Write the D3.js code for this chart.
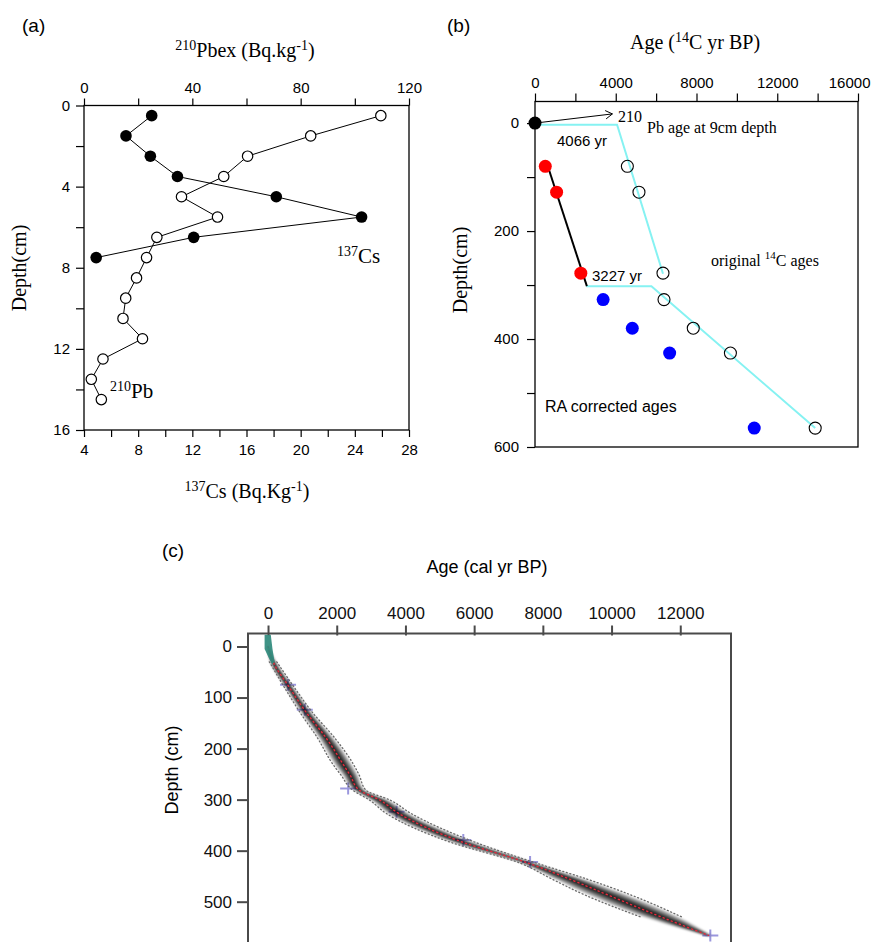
<!DOCTYPE html>
<html><head><meta charset="utf-8">
<script src="https://cdn.jsdelivr.net/npm/d3@7"></script>
<style>
body{margin:0;background:#fff}
text{font-family:"Liberation Sans",Arial,Helvetica,sans-serif}
.serif{font-family:"Liberation Serif","Times New Roman",Times,serif}
</style>
</head><body>
<svg id="chart" width="872" height="942" xmlns="http://www.w3.org/2000/svg"></svg>
<script>
// ---------- Panel (a) data ----------
const depthA = [0.5,1.5,2.5,3.5,4.5,5.5,6.5,7.5,8.5,9.5,10.5,11.5,12.5,13.5,14.5];
const cs137 = [9.0,7.1,8.9,10.9,18.2,24.5,12.1,4.9];
const pb210 = [109.6,83.7,60.4,51.6,36.0,49.3,26.9,23.1,19.4,15.4,14.4,21.6,7.0,2.7,6.4];
const csTicks = [4,6,8,10,12,14,16,18,20,22,24,26,28];
const pbTicks = [0,20,40,60,80,100,120];
const depthTicksA = [0,2,4,6,8,10,12,14,16];

// ---------- Panel (b) data ----------
const pbAgeDepth = [0];
const pbAgeAge = [0];
const redDepth = [80,128,278];
const redAge = [510,1070,2270];
const blueDepth = [327,380,426,565];
const blueAge = [3375,4820,6670,10860];
const origDepth = [80,128,278,327,380,426,565];
const origAge = [4575,5150,6340,6390,7840,9680,13880];
const cyanUpperAge = [0,4066,6340];
const cyanUpperDepth = [3,3,279];
const cyanLowerAge = [2540,5767,13880];
const cyanLowerDepth = [302,302,565];
const fitAge = [627,2570];
const fitDepth = [79,302];
const arrowAge = [0,3835];
const arrowDepth = [0,-17];
const ageTicksB = [0,2000,4000,6000,8000,10000,12000,14000,16000];
const depthTicksB = [0,100,200,300,400,500,600];

// ---------- Panel (c) data ----------
const modelDepth = [0,30,79,128,180,230,252,281,301,327,383,425,455,487,530,566];
const modelAge = [0,146,610,1100,1700,2180,2390,2650,3256,3800,5650,7600,8750,9900,11450,12820];
const modelHalf = [20,90,120,150,210,250,220,160,250,300,300,200,420,560,500,90];
const dateAge = [583,1070,2332,3742,5684,7628,12875];
const dateDepth = [75,124,278,324,379,422,566];
const tealAge = [-100,80,130,190,120,20,-100];
const tealDepth = [-23,-23,5,30,35,22,5];
const ageTicksC = [0,2000,4000,6000,8000,10000,12000];
const depthTicksC = [0,100,200,300,400,500];

const svg = d3.select("#chart");

// ================= Panel (a) =================
(function(){
  const L=84,R=409,T=105.5,B=430;
  const xCs = d3.scaleLinear().domain([4,28]).range([L,R]);
  const xPb = d3.scaleLinear().domain([0,120]).range([L,R]);
  const y = d3.scaleLinear().domain([0,16]).range([T,B]);
  const g = svg.append("g");
  g.append("rect").attr("x",L).attr("y",T).attr("width",R-L).attr("height",B-T)
    .attr("fill","none").attr("stroke","#000").attr("stroke-width",1.3);

  const styleAxis = sel => {
    sel.select(".domain").remove();
    sel.selectAll(".tick line").attr("stroke","#000").attr("stroke-width",1.2);
    sel.selectAll(".tick text").attr("font-size",15).attr("fill","#000");
  };
  g.append("g").attr("transform",`translate(0,${T})`)
    .call(d3.axisTop(xPb).tickValues(pbTicks).tickSize(7).tickPadding(6)
      .tickFormat(d=> d%40===0? d : "")).call(styleAxis);
  g.append("g").attr("transform",`translate(0,${B})`)
    .call(d3.axisBottom(xCs).tickValues(csTicks).tickSize(7).tickPadding(7)
      .tickFormat(d=> d%4===0? d : "")).call(styleAxis);
  g.append("g").attr("transform",`translate(${L},0)`)
    .call(d3.axisLeft(y).tickValues(depthTicksA).tickSize(8).tickPadding(6)
      .tickFormat(d=> d%4===0? d : "")).call(styleAxis);

  const csData = cs137.map((v,i)=>({v,d:depthA[i]}));
  const pbData = pb210.map((v,i)=>({v,d:depthA[i]}));
  g.append("path").datum(csData).attr("fill","none").attr("stroke","#000").attr("stroke-width",1)
    .attr("d",d3.line().x(p=>xCs(p.v)).y(p=>y(p.d)));
  g.append("path").datum(pbData).attr("fill","none").attr("stroke","#000").attr("stroke-width",1)
    .attr("d",d3.line().x(p=>xPb(p.v)).y(p=>y(p.d)));
  g.selectAll(".pb").data(pbData).join("circle").attr("cx",p=>xPb(p.v)).attr("cy",p=>y(p.d))
    .attr("r",5.2).attr("fill","#fff").attr("stroke","#000").attr("stroke-width",1.2);
  g.selectAll(".cs").data(csData).join("circle").attr("cx",p=>xCs(p.v)).attr("cy",p=>y(p.d))
    .attr("r",5.8).attr("fill","#000");

  const t1 = g.append("text").attr("class","serif").attr("x",337).attr("y",263).attr("font-size",21);
  t1.append("tspan").attr("font-size",14).attr("dy",-7).text("137");
  t1.append("tspan").attr("dy",7).text("Cs");
  const t2 = g.append("text").attr("class","serif").attr("x",110).attr("y",398).attr("font-size",21);
  t2.append("tspan").attr("font-size",14).attr("dy",-7).text("210");
  t2.append("tspan").attr("dy",7).text("Pb");

  const tt = g.append("text").attr("class","serif").attr("x",245).attr("y",57).attr("text-anchor","middle").attr("font-size",20);
  tt.append("tspan").attr("font-size",14).attr("dy",-7).text("210");
  tt.append("tspan").attr("dy",7).text("Pbex (Bq.kg");
  tt.append("tspan").attr("font-size",14).attr("dy",-7).text("-1");
  tt.append("tspan").attr("dy",7).text(")");
  const tb = g.append("text").attr("class","serif").attr("x",247).attr("y",498).attr("text-anchor","middle").attr("font-size",20);
  tb.append("tspan").attr("font-size",14).attr("dy",-7).text("137");
  tb.append("tspan").attr("dy",7).text("Cs (Bq.Kg");
  tb.append("tspan").attr("font-size",14).attr("dy",-7).text("-1");
  tb.append("tspan").attr("dy",7).text(")");
  g.append("text").attr("class","serif").attr("transform","translate(26,268) rotate(-90)")
    .attr("text-anchor","middle").attr("font-size",20).text("Depth(cm)");
  g.append("text").attr("x",22).attr("y",32).attr("font-size",19).text("(a)");
})();

// ================= Panel (b) =================
(function(){
  const L=535,R=858,T=101.5,B=447;
  const x = d3.scaleLinear().domain([0,16000]).range([L,R]);
  const y = d3.scaleLinear().domain([-40,600]).range([T,B]);
  const g = svg.append("g");
  g.append("rect").attr("x",L).attr("y",T).attr("width",R-L).attr("height",B-T)
    .attr("fill","none").attr("stroke","#000").attr("stroke-width",1.3);
  const styleAxis = sel => {
    sel.select(".domain").remove();
    sel.selectAll(".tick line").attr("stroke","#000").attr("stroke-width",1.2);
    sel.selectAll(".tick text").attr("font-size",15).attr("fill","#000");
  };
  const top = g.append("g").attr("transform",`translate(0,${T})`)
    .call(d3.axisTop(x).tickValues(ageTicksB).tickSize(8).tickPadding(6)
      .tickFormat(d=> d%4000===0? d : "")).call(styleAxis);
  top.selectAll(".tick text").filter(d=>d===16000).attr("text-anchor","end").attr("dx",12);
  g.append("g").attr("transform",`translate(${L},0)`)
    .call(d3.axisLeft(y).tickValues(depthTicksB).tickSize(8).tickPadding(8)
      .tickFormat(d=> d%200===0? d : "")).call(styleAxis);

  const ln = d3.line().x(d=>x(d[0])).y(d=>y(d[1]));
  g.append("path").datum(cyanUpperAge.map((a,i)=>[a,cyanUpperDepth[i]]))
    .attr("fill","none").attr("stroke","#86f2f2").attr("stroke-width",2).attr("d",ln);
  g.append("path").datum(cyanLowerAge.map((a,i)=>[a,cyanLowerDepth[i]]))
    .attr("fill","none").attr("stroke","#86f2f2").attr("stroke-width",2).attr("d",ln);
  g.append("path").datum(fitAge.map((a,i)=>[a,fitDepth[i]]))
    .attr("fill","none").attr("stroke","#000").attr("stroke-width",2).attr("d",ln);

  g.selectAll(".orig").data(origAge.map((a,i)=>[a,origDepth[i]])).join("circle")
    .attr("cx",d=>x(d[0])).attr("cy",d=>y(d[1])).attr("r",6).attr("fill","none")
    .attr("stroke","#000").attr("stroke-width",1.1);
  g.selectAll(".red").data(redAge.map((a,i)=>[a,redDepth[i]])).join("circle")
    .attr("cx",d=>x(d[0])).attr("cy",d=>y(d[1])).attr("r",6.5).attr("fill","#ff0000");
  g.selectAll(".blue").data(blueAge.map((a,i)=>[a,blueDepth[i]])).join("circle")
    .attr("cx",d=>x(d[0])).attr("cy",d=>y(d[1])).attr("r",6.5).attr("fill","#0000ff");

  const ap = arrowAge.map((a,i)=>[x(a),y(arrowDepth[i])]);
  g.append("line").attr("x1",ap[0][0]).attr("y1",ap[0][1]).attr("x2",ap[1][0]).attr("y2",ap[1][1])
    .attr("stroke","#000").attr("stroke-width",1);
  const ang = Math.atan2(ap[1][1]-ap[0][1], ap[1][0]-ap[0][0]);
  const hl=8, ha=0.55;
  g.append("path").attr("fill","none").attr("stroke","#000").attr("stroke-width",1)
    .attr("d",`M${ap[1][0]-hl*Math.cos(ang-ha)},${ap[1][1]-hl*Math.sin(ang-ha)}L${ap[1][0]},${ap[1][1]}L${ap[1][0]-hl*Math.cos(ang+ha)},${ap[1][1]-hl*Math.sin(ang+ha)}`);
  g.selectAll(".pbage").data(pbAgeAge.map((a,i)=>[a,pbAgeDepth[i]])).join("circle")
    .attr("cx",d=>x(d[0])).attr("cy",d=>y(d[1])).attr("r",6.5).attr("fill","#000");

  g.append("text").attr("class","serif").attr("x",618).attr("y",122).attr("font-size",16).text("210");
  g.append("text").attr("class","serif").attr("x",647).attr("y",133).attr("font-size",16).text("Pb age at 9cm depth");
  g.append("text").attr("x",557).attr("y",146).attr("font-size",15).text("4066 yr");
  g.append("text").attr("x",592).attr("y",281).attr("font-size",15).text("3227 yr");
  const to = g.append("text").attr("class","serif").attr("x",711).attr("y",266).attr("font-size",16);
  to.append("tspan").text("original ");
  to.append("tspan").attr("font-size",11).attr("dy",-7).text("14");
  to.append("tspan").attr("dy",7).text("C ages");
  g.append("text").attr("x",545).attr("y",412).attr("font-size",16).text("RA corrected ages");

  const tt = g.append("text").attr("class","serif").attr("x",695).attr("y",49).attr("text-anchor","middle").attr("font-size",20);
  tt.append("tspan").text("Age (");
  tt.append("tspan").attr("font-size",14).attr("dy",-7).text("14");
  tt.append("tspan").attr("dy",7).text("C yr BP)");
  g.append("text").attr("class","serif").attr("transform","translate(467,270) rotate(-90)")
    .attr("text-anchor","middle").attr("font-size",20).text("Depth(cm)");
  g.append("text").attr("x",447).attr("y",32).attr("font-size",19).text("(b)");
})();

// ================= Panel (c) =================
(function(){
  const L=248,R=731,T=633.5,B=990;
  const x = d3.scaleLinear().domain([-583,13477]).range([L,R]);
  const y = d3.scaleLinear().domain([0,500]).range([646.5,901.7]);
  const g = svg.append("g");
  const defs = svg.append("defs");
  defs.append("clipPath").attr("id","clipC").append("rect").attr("x",L).attr("y",T).attr("width",R-L).attr("height",B-T);
  defs.append("filter").attr("id","blurC").attr("x","-10%").attr("y","-10%").attr("width","120%").attr("height","120%")
    .append("feGaussianBlur").attr("stdDeviation",1.1);

  const axCol="#4a4a4a";
  const styleAxis = sel => {
    sel.select(".domain").remove();
    sel.selectAll(".tick line").attr("stroke",axCol).attr("stroke-width",2);
    sel.selectAll(".tick text").attr("font-size",17).attr("fill","#111");
  };
  g.append("g").attr("transform",`translate(0,${T+2})`)
    .call(d3.axisTop(x).tickValues(ageTicksC).tickSize(10).tickPadding(7).tickFormat(d3.format("d"))).call(styleAxis);
  g.append("g").attr("transform",`translate(${L},0)`)
    .call(d3.axisLeft(y).tickValues(depthTicksC).tickSize(11).tickPadding(5).tickFormat(d3.format("d"))).call(styleAxis);

  const model = modelDepth.map((d,i)=>({d,a:modelAge[i],h:modelHalf[i]}));
  const pg = g.append("g").attr("clip-path","url(#clipC)");
  dateAge.forEach((a,i)=>{
    const cx=x(a), cy=y(dateDepth[i]);
    pg.append("path").attr("d",`M${cx-8},${cy}L${cx+8},${cy}M${cx},${cy-6}L${cx},${cy+6}`)
      .attr("stroke","#8a86d8").attr("stroke-width",2).attr("opacity",0.85);
  });
  const dens = pg.append("g").attr("filter","url(#blurC)");
  [1.0,0.8,0.62,0.48,0.36,0.26,0.17,0.09].forEach(f=>{
    dens.append("path").datum(model).attr("fill","#000").attr("fill-opacity",0.24)
      .attr("d",d3.area().curve(d3.curveMonotoneY).y(p=>y(p.d)).x0(p=>x(p.a-f*p.h)).x1(p=>x(p.a+f*p.h)));
  });
  const inner = model.slice(1,model.length-1);
  [-1.2,1.2].forEach(s=>{
    pg.append("path").datum(inner).attr("fill","none").attr("stroke","#6a6a6a").attr("stroke-width",1.3)
      .attr("stroke-dasharray","1,2.6").attr("stroke-linecap","round")
      .attr("d",d3.line().curve(d3.curveMonotoneY).y(p=>y(p.d)).x(p=>x(p.a+s*p.h)));
  });
  pg.append("path").datum(model).attr("fill","none").attr("stroke","#e8283a").attr("stroke-width",1.4)
    .attr("stroke-dasharray","1.2,3.2").attr("stroke-linecap","round")
    .attr("d",d3.line().curve(d3.curveMonotoneY).y(p=>y(p.d)).x(p=>x(p.a)));
  pg.append("path").datum(tealAge.map((a,i)=>[a,tealDepth[i]])).attr("fill","#2f8a7c").attr("opacity",0.92)
    .attr("d",d3.line().curve(d3.curveLinearClosed).x(p=>x(p[0])).y(p=>y(p[1])));

  g.append("path").attr("d",`M${L},${B}V${T}H${R}V${B}`).attr("fill","none").attr("stroke",axCol).attr("stroke-width",2);

  g.append("text").attr("x",487).attr("y",573).attr("text-anchor","middle").attr("font-size",18).text("Age (cal yr BP)");
  g.append("text").attr("transform","translate(178,770) rotate(-90)").attr("text-anchor","middle").attr("font-size",18).text("Depth (cm)");
  g.append("text").attr("x",162).attr("y",557).attr("font-size",19).text("(c)");
})();
</script>
</body></html>
